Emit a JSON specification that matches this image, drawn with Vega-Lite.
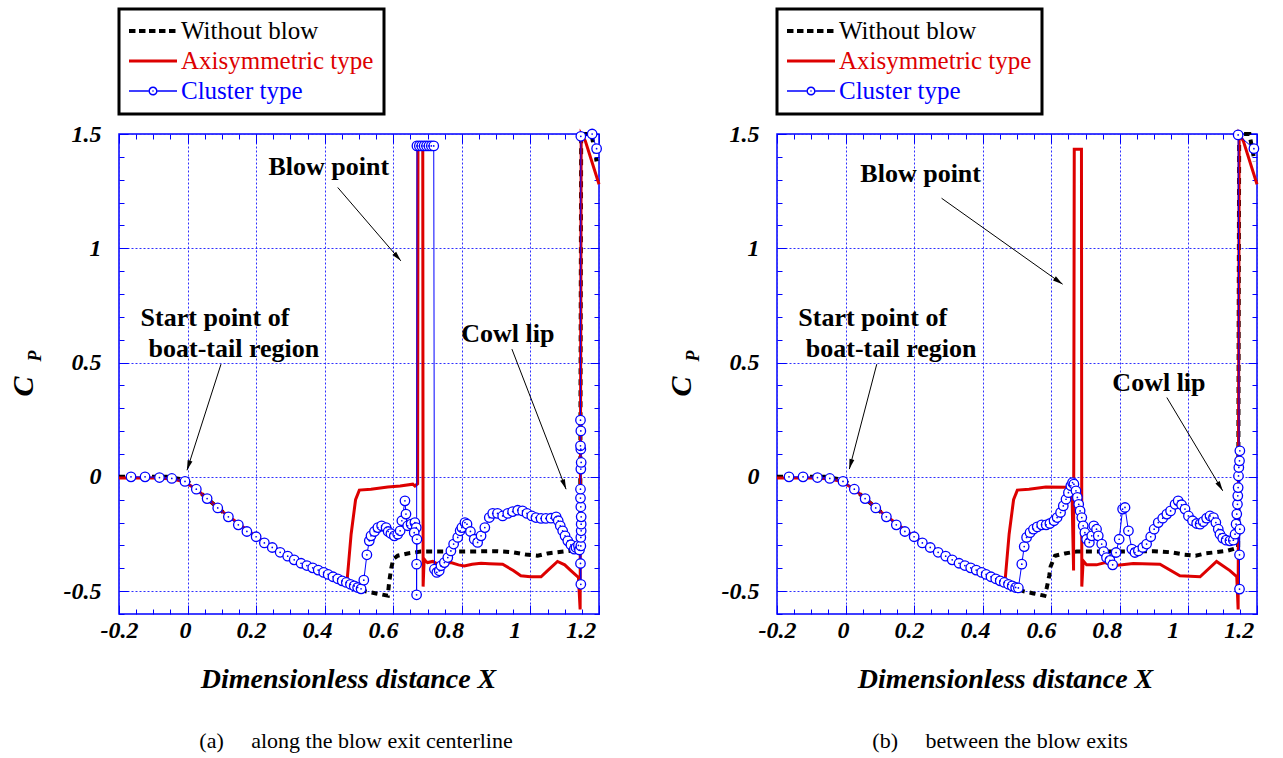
{
  "$schema": "https://vega.github.io/schema/vega-lite/v6.json",
  "padding": {"left": 7, "top": 6, "right": 5, "bottom": 0},
  "spacing": 59,
  "config": {
    "font": "Liberation Serif",
    "view": {"stroke": "#0000ff", "strokeWidth": 1.5},
    "axis": {
      "domain": false, "tickColor": "#0000ff", "tickWidth": 1,
      "gridColor": "#2f2fff", "gridDash": [2, 2], "gridWidth": 1,
      "labelFont": "Liberation Serif", "labelFontSize": 24, "labelFontStyle": "italic", "labelFontWeight": "bold", "labelColor": "black",
      "titleFont": "Liberation Serif", "titleFontStyle": "italic", "titleFontWeight": "bold", "titleColor": "black"
    }
  },
  "resolve": {"scale": {"color": "independent"}, "legend": {"color": "independent"}},
  "datasets": {
    "a_lines": [
      {"s":"Without blow","x":-0.2,"cp":0},{"s":"Without blow","x":-0.06,"cp":0},{"s":"Without blow","x":-0.02,"cp":-0.01},{"s":"Without blow","x":0,"cp":-0.02},{"s":"Without blow","x":0.03,"cp":-0.06},{"s":"Without blow","x":0.1,"cp":-0.15},{"s":"Without blow","x":0.2,"cp":-0.262},{"s":"Without blow","x":0.3,"cp":-0.355},{"s":"Without blow","x":0.4,"cp":-0.42},{"s":"Without blow","x":0.5,"cp":-0.485},{"s":"Without blow","x":0.517,"cp":-0.5},{"s":"Without blow","x":0.55,"cp":-0.51},{"s":"Without blow","x":0.584,"cp":-0.52},{"s":"Without blow","x":0.588,"cp":-0.46},{"s":"Without blow","x":0.594,"cp":-0.4},{"s":"Without blow","x":0.6,"cp":-0.36},{"s":"Without blow","x":0.613,"cp":-0.345},{"s":"Without blow","x":0.642,"cp":-0.335},{"s":"Without blow","x":0.68,"cp":-0.327},{"s":"Without blow","x":0.8,"cp":-0.327},{"s":"Without blow","x":0.9,"cp":-0.325},{"s":"Without blow","x":0.95,"cp":-0.33},{"s":"Without blow","x":0.987,"cp":-0.34},{"s":"Without blow","x":1.021,"cp":-0.345},{"s":"Without blow","x":1.05,"cp":-0.335},{"s":"Without blow","x":1.112,"cp":-0.324},{"s":"Without blow","x":1.145,"cp":-0.318},{"s":"Without blow","x":1.148,"cp":1.5},{"s":"Without blow","x":1.178,"cp":1.5},{"s":"Without blow","x":1.193,"cp":1.38},
      {"s":"Axisymmetric type","x":-0.2,"cp":-0.005},{"s":"Axisymmetric type","x":-0.1,"cp":-0.005},{"s":"Axisymmetric type","x":-0.05,"cp":-0.008},{"s":"Axisymmetric type","x":-0.01,"cp":-0.02},{"s":"Axisymmetric type","x":0.03,"cp":-0.06},{"s":"Axisymmetric type","x":0.1,"cp":-0.15},{"s":"Axisymmetric type","x":0.2,"cp":-0.262},{"s":"Axisymmetric type","x":0.3,"cp":-0.355},{"s":"Axisymmetric type","x":0.4,"cp":-0.42},{"s":"Axisymmetric type","x":0.465,"cp":-0.458},{"s":"Axisymmetric type","x":0.477,"cp":-0.251},{"s":"Axisymmetric type","x":0.49,"cp":-0.1},{"s":"Axisymmetric type","x":0.501,"cp":-0.058},{"s":"Axisymmetric type","x":0.535,"cp":-0.054},{"s":"Axisymmetric type","x":0.584,"cp":-0.044},{"s":"Axisymmetric type","x":0.62,"cp":-0.04},{"s":"Axisymmetric type","x":0.657,"cp":-0.032},
      {"s":"Axisymmetric type","x":0.663,"cp":-0.04},{"s":"Axisymmetric type","x":0.671,"cp":-0.03},{"s":"Axisymmetric type","x":0.672,"cp":1.44},{"s":"Axisymmetric type","x":0.686,"cp":1.44},{"s":"Axisymmetric type","x":0.687,"cp":-0.48},{"s":"Axisymmetric type","x":0.69,"cp":-0.36},{"s":"Axisymmetric type","x":0.695,"cp":-0.37},{"s":"Axisymmetric type","x":0.7,"cp":-0.375},{"s":"Axisymmetric type","x":0.715,"cp":-0.37},{"s":"Axisymmetric type","x":0.729,"cp":-0.382},{"s":"Axisymmetric type","x":0.75,"cp":-0.376},{"s":"Axisymmetric type","x":0.768,"cp":-0.375},{"s":"Axisymmetric type","x":0.79,"cp":-0.385},{"s":"Axisymmetric type","x":0.807,"cp":-0.39},{"s":"Axisymmetric type","x":0.83,"cp":-0.382},{"s":"Axisymmetric type","x":0.856,"cp":-0.378},{"s":"Axisymmetric type","x":0.88,"cp":-0.38},{"s":"Axisymmetric type","x":0.919,"cp":-0.382},{"s":"Axisymmetric type","x":0.95,"cp":-0.41},{"s":"Axisymmetric type","x":0.972,"cp":-0.433},{"s":"Axisymmetric type","x":1.0,"cp":-0.437},{"s":"Axisymmetric type","x":1.031,"cp":-0.437},{"s":"Axisymmetric type","x":1.05,"cp":-0.41},{"s":"Axisymmetric type","x":1.079,"cp":-0.37},{"s":"Axisymmetric type","x":1.1,"cp":-0.385},{"s":"Axisymmetric type","x":1.118,"cp":-0.41},{"s":"Axisymmetric type","x":1.14,"cp":-0.44},{"s":"Axisymmetric type","x":1.145,"cp":-0.58},{"s":"Axisymmetric type","x":1.148,"cp":1.5},{"s":"Axisymmetric type","x":1.16,"cp":1.47},{"s":"Axisymmetric type","x":1.2,"cp":1.28},
      {"s":"Cluster type","x":-0.165,"cp":0},{"s":"Cluster type","x":-0.124,"cp":0},{"s":"Cluster type","x":-0.082,"cp":-0.003},{"s":"Cluster type","x":-0.046,"cp":-0.007},{"s":"Cluster type","x":-0.0075,"cp":-0.02},{"s":"Cluster type","x":0.0255,"cp":-0.054},{"s":"Cluster type","x":0.057,"cp":-0.095},{"s":"Cluster type","x":0.088,"cp":-0.136},{"s":"Cluster type","x":0.119,"cp":-0.175},{"s":"Cluster type","x":0.148,"cp":-0.21},{"s":"Cluster type","x":0.173,"cp":-0.239},{"s":"Cluster type","x":0.2,"cp":-0.262},{"s":"Cluster type","x":0.224,"cp":-0.289},{"s":"Cluster type","x":0.247,"cp":-0.309},{"s":"Cluster type","x":0.27,"cp":-0.33},{"s":"Cluster type","x":0.292,"cp":-0.347},{"s":"Cluster type","x":0.311,"cp":-0.363},{"s":"Cluster type","x":0.331,"cp":-0.378},{"s":"Cluster type","x":0.348,"cp":-0.388},{"s":"Cluster type","x":0.365,"cp":-0.398},{"s":"Cluster type","x":0.381,"cp":-0.408},{"s":"Cluster type","x":0.397,"cp":-0.418},{"s":"Cluster type","x":0.41,"cp":-0.427},{"s":"Cluster type","x":0.424,"cp":-0.437},{"s":"Cluster type","x":0.438,"cp":-0.446},{"s":"Cluster type","x":0.451,"cp":-0.455},{"s":"Cluster type","x":0.463,"cp":-0.462},{"s":"Cluster type","x":0.475,"cp":-0.47},{"s":"Cluster type","x":0.486,"cp":-0.477},{"s":"Cluster type","x":0.496,"cp":-0.484},{"s":"Cluster type","x":0.506,"cp":-0.49},
      {"s":"Cluster type","x":0.514,"cp":-0.452},{"s":"Cluster type","x":0.523,"cp":-0.341},{"s":"Cluster type","x":0.53,"cp":-0.28},{"s":"Cluster type","x":0.535,"cp":-0.258},{"s":"Cluster type","x":0.545,"cp":-0.239},{"s":"Cluster type","x":0.555,"cp":-0.222},{"s":"Cluster type","x":0.566,"cp":-0.214},{"s":"Cluster type","x":0.579,"cp":-0.222},{"s":"Cluster type","x":0.585,"cp":-0.239},{"s":"Cluster type","x":0.593,"cp":-0.248},{"s":"Cluster type","x":0.603,"cp":-0.258},{"s":"Cluster type","x":0.613,"cp":-0.251},{"s":"Cluster type","x":0.62,"cp":-0.236},{"s":"Cluster type","x":0.625,"cp":-0.192},{"s":"Cluster type","x":0.634,"cp":-0.105},{"s":"Cluster type","x":0.637,"cp":-0.163},{"s":"Cluster type","x":0.642,"cp":-0.214},{"s":"Cluster type","x":0.652,"cp":-0.207},{"s":"Cluster type","x":0.663,"cp":-0.2},{"s":"Cluster type","x":0.667,"cp":-0.222},{"s":"Cluster type","x":0.661,"cp":-0.244},{"s":"Cluster type","x":0.669,"cp":-0.273},{"s":"Cluster type","x":0.668,"cp":-0.382},{"s":"Cluster type","x":0.668,"cp":-0.516},{"s":"Cluster type","x":0.669,"cp":1.448},{"s":"Cluster type","x":0.676,"cp":1.448},{"s":"Cluster type","x":0.683,"cp":1.448},{"s":"Cluster type","x":0.69,"cp":1.448},{"s":"Cluster type","x":0.697,"cp":1.448},{"s":"Cluster type","x":0.704,"cp":1.448},{"s":"Cluster type","x":0.711,"cp":1.448},{"s":"Cluster type","x":0.718,"cp":1.448},{"s":"Cluster type","x":0.72,"cp":-0.404},{"s":"Cluster type","x":0.727,"cp":-0.418},{"s":"Cluster type","x":0.734,"cp":-0.411},{"s":"Cluster type","x":0.739,"cp":-0.389},{"s":"Cluster type","x":0.749,"cp":-0.375},{"s":"Cluster type","x":0.759,"cp":-0.353},{"s":"Cluster type","x":0.768,"cp":-0.324},{"s":"Cluster type","x":0.776,"cp":-0.294},{"s":"Cluster type","x":0.788,"cp":-0.265},{"s":"Cluster type","x":0.795,"cp":-0.236},{"s":"Cluster type","x":0.8,"cp":-0.222},{"s":"Cluster type","x":0.809,"cp":-0.2},{"s":"Cluster type","x":0.815,"cp":-0.207},{"s":"Cluster type","x":0.825,"cp":-0.239},{"s":"Cluster type","x":0.836,"cp":-0.273},{"s":"Cluster type","x":0.846,"cp":-0.287},{"s":"Cluster type","x":0.856,"cp":-0.258},{"s":"Cluster type","x":0.867,"cp":-0.222},{"s":"Cluster type","x":0.88,"cp":-0.178},{"s":"Cluster type","x":0.89,"cp":-0.16},{"s":"Cluster type","x":0.904,"cp":-0.16},{"s":"Cluster type","x":0.919,"cp":-0.171},{"s":"Cluster type","x":0.934,"cp":-0.16},{"s":"Cluster type","x":0.948,"cp":-0.152},{"s":"Cluster type","x":0.963,"cp":-0.146},{"s":"Cluster type","x":0.977,"cp":-0.149},{"s":"Cluster type","x":0.99,"cp":-0.16},{"s":"Cluster type","x":1.004,"cp":-0.171},{"s":"Cluster type","x":1.016,"cp":-0.178},{"s":"Cluster type","x":1.031,"cp":-0.182},{"s":"Cluster type","x":1.045,"cp":-0.182},{"s":"Cluster type","x":1.06,"cp":-0.181},{"s":"Cluster type","x":1.075,"cp":-0.175},{"s":"Cluster type","x":1.081,"cp":-0.192},{"s":"Cluster type","x":1.087,"cp":-0.214},{"s":"Cluster type","x":1.094,"cp":-0.236},{"s":"Cluster type","x":1.101,"cp":-0.258},{"s":"Cluster type","x":1.109,"cp":-0.28},{"s":"Cluster type","x":1.118,"cp":-0.297},{"s":"Cluster type","x":1.128,"cp":-0.316},{"s":"Cluster type","x":1.133,"cp":-0.309},{"s":"Cluster type","x":1.14,"cp":-0.3},{"s":"Cluster type","x":1.143,"cp":-0.32},{"s":"Cluster type","x":1.146,"cp":-0.379},{"s":"Cluster type","x":1.147,"cp":-0.47},{"s":"Cluster type","x":1.147,"cp":-0.302},{"s":"Cluster type","x":1.147,"cp":-0.265},{"s":"Cluster type","x":1.148,"cp":-0.236},{"s":"Cluster type","x":1.148,"cp":-0.207},{"s":"Cluster type","x":1.148,"cp":-0.175},{"s":"Cluster type","x":1.147,"cp":-0.131},{"s":"Cluster type","x":1.146,"cp":-0.093},{"s":"Cluster type","x":1.146,"cp":-0.054},{"s":"Cluster type","x":1.147,"cp":0.034},{"s":"Cluster type","x":1.148,"cp":0.063},{"s":"Cluster type","x":1.147,"cp":0.121},{"s":"Cluster type","x":1.146,"cp":0.136},{"s":"Cluster type","x":1.147,"cp":0.201},{"s":"Cluster type","x":1.146,"cp":0.248},{"s":"Cluster type","x":1.147,"cp":1.49},{"s":"Cluster type","x":1.18,"cp":1.5},{"s":"Cluster type","x":1.193,"cp":1.436}
    ],
    "b_lines": [
      {"s":"Without blow","x":-0.2,"cp":0},{"s":"Without blow","x":-0.06,"cp":0},{"s":"Without blow","x":-0.02,"cp":-0.01},{"s":"Without blow","x":0,"cp":-0.02},{"s":"Without blow","x":0.03,"cp":-0.06},{"s":"Without blow","x":0.1,"cp":-0.15},{"s":"Without blow","x":0.2,"cp":-0.262},{"s":"Without blow","x":0.3,"cp":-0.355},{"s":"Without blow","x":0.4,"cp":-0.42},{"s":"Without blow","x":0.5,"cp":-0.485},{"s":"Without blow","x":0.518,"cp":-0.5},{"s":"Without blow","x":0.548,"cp":-0.51},{"s":"Without blow","x":0.58,"cp":-0.52},{"s":"Without blow","x":0.587,"cp":-0.484},{"s":"Without blow","x":0.594,"cp":-0.433},{"s":"Without blow","x":0.598,"cp":-0.392},{"s":"Without blow","x":0.611,"cp":-0.345},{"s":"Without blow","x":0.64,"cp":-0.335},{"s":"Without blow","x":0.674,"cp":-0.327},{"s":"Without blow","x":0.8,"cp":-0.327},{"s":"Without blow","x":0.9,"cp":-0.325},{"s":"Without blow","x":0.95,"cp":-0.33},{"s":"Without blow","x":0.987,"cp":-0.34},{"s":"Without blow","x":1.021,"cp":-0.345},{"s":"Without blow","x":1.05,"cp":-0.335},{"s":"Without blow","x":1.112,"cp":-0.324},{"s":"Without blow","x":1.145,"cp":-0.31},{"s":"Without blow","x":1.148,"cp":1.5},{"s":"Without blow","x":1.178,"cp":1.5},{"s":"Without blow","x":1.193,"cp":1.38},
      {"s":"Axisymmetric type","x":-0.2,"cp":-0.005},{"s":"Axisymmetric type","x":-0.1,"cp":-0.005},{"s":"Axisymmetric type","x":-0.05,"cp":-0.008},{"s":"Axisymmetric type","x":-0.01,"cp":-0.02},{"s":"Axisymmetric type","x":0.03,"cp":-0.06},{"s":"Axisymmetric type","x":0.1,"cp":-0.15},{"s":"Axisymmetric type","x":0.2,"cp":-0.262},{"s":"Axisymmetric type","x":0.3,"cp":-0.355},{"s":"Axisymmetric type","x":0.4,"cp":-0.42},{"s":"Axisymmetric type","x":0.465,"cp":-0.458},{"s":"Axisymmetric type","x":0.477,"cp":-0.251},{"s":"Axisymmetric type","x":0.49,"cp":-0.1},{"s":"Axisymmetric type","x":0.501,"cp":-0.058},{"s":"Axisymmetric type","x":0.535,"cp":-0.054},{"s":"Axisymmetric type","x":0.584,"cp":-0.044},{"s":"Axisymmetric type","x":0.645,"cp":-0.045},
      {"s":"Axisymmetric type","x":0.66,"cp":-0.04},{"s":"Axisymmetric type","x":0.665,"cp":-0.41},{"s":"Axisymmetric type","x":0.667,"cp":1.433},{"s":"Axisymmetric type","x":0.688,"cp":1.433},{"s":"Axisymmetric type","x":0.689,"cp":-0.48},{"s":"Axisymmetric type","x":0.693,"cp":-0.367},{"s":"Axisymmetric type","x":0.703,"cp":-0.385},{"s":"Axisymmetric type","x":0.732,"cp":-0.385},{"s":"Axisymmetric type","x":0.757,"cp":-0.375},{"s":"Axisymmetric type","x":0.781,"cp":-0.389},{"s":"Axisymmetric type","x":0.839,"cp":-0.379},{"s":"Axisymmetric type","x":0.917,"cp":-0.382},{"s":"Axisymmetric type","x":0.975,"cp":-0.433},{"s":"Axisymmetric type","x":1.034,"cp":-0.437},{"s":"Axisymmetric type","x":1.082,"cp":-0.37},{"s":"Axisymmetric type","x":1.121,"cp":-0.41},{"s":"Axisymmetric type","x":1.141,"cp":-0.437},{"s":"Axisymmetric type","x":1.145,"cp":-0.58},{"s":"Axisymmetric type","x":1.148,"cp":1.5},{"s":"Axisymmetric type","x":1.16,"cp":1.47},{"s":"Axisymmetric type","x":1.2,"cp":1.28},
      {"s":"Cluster type","x":-0.165,"cp":0},{"s":"Cluster type","x":-0.124,"cp":0},{"s":"Cluster type","x":-0.082,"cp":-0.003},{"s":"Cluster type","x":-0.046,"cp":-0.007},{"s":"Cluster type","x":-0.0075,"cp":-0.02},{"s":"Cluster type","x":0.0255,"cp":-0.054},{"s":"Cluster type","x":0.057,"cp":-0.095},{"s":"Cluster type","x":0.088,"cp":-0.136},{"s":"Cluster type","x":0.119,"cp":-0.175},{"s":"Cluster type","x":0.148,"cp":-0.21},{"s":"Cluster type","x":0.173,"cp":-0.239},{"s":"Cluster type","x":0.2,"cp":-0.262},{"s":"Cluster type","x":0.224,"cp":-0.289},{"s":"Cluster type","x":0.247,"cp":-0.309},{"s":"Cluster type","x":0.27,"cp":-0.33},{"s":"Cluster type","x":0.292,"cp":-0.347},{"s":"Cluster type","x":0.311,"cp":-0.363},{"s":"Cluster type","x":0.331,"cp":-0.378},{"s":"Cluster type","x":0.348,"cp":-0.388},{"s":"Cluster type","x":0.365,"cp":-0.398},{"s":"Cluster type","x":0.381,"cp":-0.408},{"s":"Cluster type","x":0.397,"cp":-0.418},{"s":"Cluster type","x":0.41,"cp":-0.427},{"s":"Cluster type","x":0.424,"cp":-0.437},{"s":"Cluster type","x":0.438,"cp":-0.446},{"s":"Cluster type","x":0.451,"cp":-0.455},{"s":"Cluster type","x":0.463,"cp":-0.462},{"s":"Cluster type","x":0.475,"cp":-0.47},{"s":"Cluster type","x":0.486,"cp":-0.477},{"s":"Cluster type","x":0.496,"cp":-0.484},{"s":"Cluster type","x":0.504,"cp":-0.486},
      {"s":"Cluster type","x":0.514,"cp":-0.382},{"s":"Cluster type","x":0.521,"cp":-0.305},{"s":"Cluster type","x":0.528,"cp":-0.265},{"s":"Cluster type","x":0.538,"cp":-0.244},{"s":"Cluster type","x":0.548,"cp":-0.229},{"s":"Cluster type","x":0.559,"cp":-0.219},{"s":"Cluster type","x":0.572,"cp":-0.21},{"s":"Cluster type","x":0.585,"cp":-0.21},{"s":"Cluster type","x":0.596,"cp":-0.204},{"s":"Cluster type","x":0.608,"cp":-0.192},{"s":"Cluster type","x":0.617,"cp":-0.178},{"s":"Cluster type","x":0.627,"cp":-0.156},{"s":"Cluster type","x":0.635,"cp":-0.127},{"s":"Cluster type","x":0.643,"cp":-0.098},{"s":"Cluster type","x":0.65,"cp":-0.069},{"s":"Cluster type","x":0.657,"cp":-0.039},{"s":"Cluster type","x":0.662,"cp":-0.025},{"s":"Cluster type","x":0.666,"cp":-0.032},{"s":"Cluster type","x":0.672,"cp":-0.061},{"s":"Cluster type","x":0.676,"cp":-0.09},{"s":"Cluster type","x":0.68,"cp":-0.12},{"s":"Cluster type","x":0.684,"cp":-0.149},{"s":"Cluster type","x":0.689,"cp":-0.178},{"s":"Cluster type","x":0.693,"cp":-0.214},{"s":"Cluster type","x":0.698,"cp":-0.244},{"s":"Cluster type","x":0.703,"cp":-0.273},{"s":"Cluster type","x":0.711,"cp":-0.287},{"s":"Cluster type","x":0.718,"cp":-0.258},{"s":"Cluster type","x":0.724,"cp":-0.214},{"s":"Cluster type","x":0.732,"cp":-0.229},{"s":"Cluster type","x":0.737,"cp":-0.258},{"s":"Cluster type","x":0.747,"cp":-0.294},{"s":"Cluster type","x":0.753,"cp":-0.327},{"s":"Cluster type","x":0.761,"cp":-0.353},{"s":"Cluster type","x":0.771,"cp":-0.365},{"s":"Cluster type","x":0.779,"cp":-0.385},{"s":"Cluster type","x":0.789,"cp":-0.331},{"s":"Cluster type","x":0.798,"cp":-0.273},{"s":"Cluster type","x":0.808,"cp":-0.141},{"s":"Cluster type","x":0.815,"cp":-0.134},{"s":"Cluster type","x":0.825,"cp":-0.236},{"s":"Cluster type","x":0.835,"cp":-0.316},{"s":"Cluster type","x":0.844,"cp":-0.331},{"s":"Cluster type","x":0.854,"cp":-0.324},{"s":"Cluster type","x":0.867,"cp":-0.309},{"s":"Cluster type","x":0.878,"cp":-0.294},{"s":"Cluster type","x":0.89,"cp":-0.262},{"s":"Cluster type","x":0.9,"cp":-0.229},{"s":"Cluster type","x":0.912,"cp":-0.2},{"s":"Cluster type","x":0.925,"cp":-0.181},{"s":"Cluster type","x":0.937,"cp":-0.163},{"s":"Cluster type","x":0.948,"cp":-0.149},{"s":"Cluster type","x":0.961,"cp":-0.12},{"s":"Cluster type","x":0.97,"cp":-0.105},{"s":"Cluster type","x":0.98,"cp":-0.122},{"s":"Cluster type","x":0.99,"cp":-0.141},{"s":"Cluster type","x":1.0,"cp":-0.171},{"s":"Cluster type","x":1.012,"cp":-0.192},{"s":"Cluster type","x":1.024,"cp":-0.204},{"s":"Cluster type","x":1.034,"cp":-0.207},{"s":"Cluster type","x":1.043,"cp":-0.196},{"s":"Cluster type","x":1.053,"cp":-0.181},{"s":"Cluster type","x":1.063,"cp":-0.171},{"s":"Cluster type","x":1.073,"cp":-0.178},{"s":"Cluster type","x":1.08,"cp":-0.2},{"s":"Cluster type","x":1.087,"cp":-0.229},{"s":"Cluster type","x":1.092,"cp":-0.251},{"s":"Cluster type","x":1.1,"cp":-0.268},{"s":"Cluster type","x":1.11,"cp":-0.277},{"s":"Cluster type","x":1.121,"cp":-0.28},{"s":"Cluster type","x":1.131,"cp":-0.277},{"s":"Cluster type","x":1.136,"cp":-0.251},{"s":"Cluster type","x":1.139,"cp":-0.207},{"s":"Cluster type","x":1.141,"cp":-0.163},{"s":"Cluster type","x":1.143,"cp":-0.12},{"s":"Cluster type","x":1.144,"cp":-0.083},{"s":"Cluster type","x":1.145,"cp":-0.047},{"s":"Cluster type","x":1.146,"cp":0.004},{"s":"Cluster type","x":1.147,"cp":0.041},{"s":"Cluster type","x":1.149,"cp":0.07},{"s":"Cluster type","x":1.15,"cp":0.114},{"s":"Cluster type","x":1.15,"cp":-0.229},{"s":"Cluster type","x":1.149,"cp":-0.341},{"s":"Cluster type","x":1.149,"cp":-0.491},{"s":"Cluster type","x":1.145,"cp":1.496},{"s":"Cluster type","x":1.191,"cp":1.436}
    ],
    "a_notes": [
      {"t":"Blow point","x":0.412,"cp":1.356},{"t":"Start point of","x":0.08,"cp":0.697},{"t":"boat-tail region","x":0.135,"cp":0.561},{"t":"Cowl lip","x":0.934,"cp":0.624}
    ],
    "b_notes": [
      {"t":"Blow point","x":0.219,"cp":1.324},{"t":"Start point of","x":0.079,"cp":0.697},{"t":"boat-tail region","x":0.133,"cp":0.559},{"t":"Cowl lip","x":0.914,"cp":0.4125}
    ],
    "a_arrows": [
      {"n":"blow","x":0.438,"cp":1.266,"x2":0.622,"cp2":0.945},{"n":"start","x":0.0975,"cp":0.493,"x2":-0.0017,"cp2":0.029},{"n":"cowl","x":0.946,"cp":0.559,"x2":1.104,"cp2":-0.054}
    ],
    "b_arrows": [
      {"n":"blow","x":0.28,"cp":1.219,"x2":0.633,"cp2":0.843},{"n":"start","x":0.091,"cp":0.493,"x2":0.011,"cp2":0.034},{"n":"cowl","x":0.937,"cp":0.347,"x2":1.1,"cp2":-0.061}
    ],
    "sub": [{"t":"P","x":-0.442,"cp":0.529}]
  },
  "hconcat": [
    {
      "width": 480, "height": 480,
      "title": {"text": "(a)\u00a0\u00a0\u00a0\u00a0 along the blow exit centerline", "orient": "bottom", "frame": "group", "anchor": "middle", "dx": -3, "offset": 38, "font": "Liberation Serif", "fontSize": 22, "fontWeight": "normal", "color": "black"},
      "resolve": {"axis": {"x": "independent", "y": "independent"}},
      "layer": [
        {"data": {"name": "a_lines"}, "transform": [{"filter": "datum.s === 'Without blow'"}],
         "mark": {"type": "line", "strokeDash": [6, 5], "strokeWidth": 4, "strokeCap": "butt"},
         "encoding": {
           "x": {"field": "x", "type": "quantitative", "scale": {"domain": [-0.2, 1.2], "nice": false, "zero": false},
                 "axis": {"orient": "bottom", "values": [-0.2, 0, 0.2, 0.4, 0.6, 0.8, 1, 1.2], "ticks": false, "grid": true, "labelPadding": 4, "labelFlush": false, "labelOverlap": false,
                          "labelExpr": "datum.value < 0 ? '-' + format(-datum.value, '~g') : format(datum.value, '~g')",
                          "labelOffset": {"expr": "-(datum.value + 0.2) * 13"},
                          "title": "Dimensionless distance X", "titleFontSize": 28, "titleX": 229, "titleY": 73, "titleBaseline": "alphabetic", "titleAlign": "center"}},
           "y": {"field": "cp", "type": "quantitative", "scale": {"domain": [-0.6, 1.5], "nice": false, "zero": false},
                 "axis": {"orient": "left", "values": [-0.5, 0, 0.5, 1, 1.5], "ticks": false, "grid": true, "labelPadding": 18, "labelOverlap": false, "labelFlush": false,
                          "labelExpr": "datum.value < 0 ? '-' + format(-datum.value, '~g') : format(datum.value, '~g')",
                          "title": "C", "titleFontSize": 30, "titleX": -96, "titleY": 252, "titleAngle": 270, "titleAlign": "center", "titleBaseline": "middle"}},
           "color": {"field": "s", "type": "nominal",
                     "scale": {"domain": ["Without blow", "Axisymmetric type", "Cluster type"], "range": ["#000000", "#dd0000", "#0000ff"]},
                     "legend": {"title": null, "orient": "none", "legendX": 0, "legendY": -125, "direction": "vertical", "padding": 10, "rowPadding": 5, "clipHeight": 24,
                                "symbolSize": 2304, "symbolStrokeWidth": 0, "symbolType": "stroke",
                                "labelFont": "Liberation Serif", "labelFontSize": 25, "labelFontStyle": "normal", "labelFontWeight": "normal", "labelOffset": 4, "labelLimit": 400,
                                "strokeColor": "black", "fillColor": "white",
                                "encode": {
                                  "legend": {"update": {"strokeWidth": {"value": 3}}},
                                  "labels": {"update": {"fill": [{"test": "datum.value === 'Without blow'", "value": "#000000"}, {"test": "datum.value === 'Axisymmetric type'", "value": "#dd0000"}, {"value": "#0000ff"}]}},
                                  "symbols": {"update": {
                                    "shape": [{"test": "datum.value === 'Without blow'", "value": "M-1,-0.085H-0.73V0.085H-1Z M-0.583,-0.085H-0.313V0.085H-0.583Z M-0.167,-0.085H0.103V0.085H-0.167Z M0.25,-0.085H0.52V0.085H0.25Z M0.667,-0.085H0.937V0.085H0.667Z"}, {"test": "datum.value === 'Cluster type'", "value": "M-1,-0.03H-0.19V0.03H-1Z M0.19,-0.03H1V0.03H0.19Z M0.19,0A0.19,0.19,0,1,1,-0.19,0A0.19,0.19,0,1,1,0.19,0Z M0.13,0A0.13,0.13,0,1,0,-0.13,0A0.13,0.13,0,1,0,0.13,0Z M0.035,0A0.035,0.035,0,1,1,-0.035,0A0.035,0.035,0,1,1,0.035,0Z"}, {"value": "M-1,-0.065H1V0.065H-1Z"}],
                                    "fill": [{"test": "datum.value === 'Without blow'", "value": "#000000"}, {"test": "datum.value === 'Cluster type'", "value": "#0000ff"}, {"value": "#dd0000"}],
                                    "fillOpacity": {"value": 1},
                                    "opacity": {"value": 1}
                                  }}
                                }}},
           "order": {"value": null}
         }},
        {"data": {"name": "a_lines"}, "transform": [{"filter": "datum.s === 'Axisymmetric type'"}],
         "mark": {"type": "line", "color": "#dd0000", "strokeWidth": 3},
         "encoding": {
           "x": {"field": "x", "type": "quantitative", "axis": {"orient": "bottom", "values": [-0.2, 0, 0.2, 0.4, 0.6, 0.8, 1, 1.2], "labels": false, "grid": false, "tickSize": -9, "title": null}},
           "y": {"field": "cp", "type": "quantitative", "axis": {"orient": "left", "values": [-0.5, 0, 0.5, 1, 1.5], "labels": false, "grid": false, "tickSize": -9, "title": null}},
           "order": {"value": null}
         }},
        {"data": {"name": "a_lines"}, "transform": [{"filter": "datum.s === 'Cluster type'"}],
         "mark": {"type": "line", "color": "#0000ff", "strokeWidth": 1},
         "encoding": {
           "x": {"field": "x", "type": "quantitative", "axis": {"orient": "bottom", "values": [-0.2, -0.15, -0.1, -0.05, 0, 0.05, 0.1, 0.15, 0.2, 0.25, 0.3, 0.35, 0.4, 0.45, 0.5, 0.55, 0.6, 0.65, 0.7, 0.75, 0.8, 0.85, 0.9, 0.95, 1, 1.05, 1.1, 1.15, 1.2], "labels": false, "grid": false, "tickSize": -5, "title": null}},
           "y": {"field": "cp", "type": "quantitative", "axis": {"orient": "left", "values": [-0.6, -0.5, -0.4, -0.3, -0.2, -0.1, 0, 0.1, 0.2, 0.3, 0.4, 0.5, 0.6, 0.7, 0.8, 0.9, 1, 1.1, 1.2, 1.3, 1.4, 1.5], "labels": false, "grid": false, "tickSize": -5, "title": null}},
           "order": {"value": null}
         }},
        {"data": {"name": "a_lines"}, "transform": [{"filter": "datum.s === 'Cluster type'"}],
         "mark": {"type": "point", "shape": "circle", "size": 90, "filled": true, "fill": "white", "stroke": "#0000ff", "strokeWidth": 1.3, "opacity": 1},
         "encoding": {
           "x": {"field": "x", "type": "quantitative", "axis": {"orient": "top", "values": [-0.2, 0, 0.2, 0.4, 0.6, 0.8, 1, 1.2], "labels": false, "grid": false, "tickSize": -9, "title": null}},
           "y": {"field": "cp", "type": "quantitative", "axis": {"orient": "right", "values": [-0.5, 0, 0.5, 1, 1.5], "labels": false, "grid": false, "tickSize": -9, "title": null}}
         }},
        {"data": {"name": "a_lines"}, "transform": [{"filter": "datum.s === 'Cluster type'"}],
         "mark": {"type": "point", "shape": "circle", "size": 3, "filled": true, "color": "#0000ff", "opacity": 1},
         "encoding": {
           "x": {"field": "x", "type": "quantitative", "axis": {"orient": "top", "values": [-0.2, -0.15, -0.1, -0.05, 0, 0.05, 0.1, 0.15, 0.2, 0.25, 0.3, 0.35, 0.4, 0.45, 0.5, 0.55, 0.6, 0.65, 0.7, 0.75, 0.8, 0.85, 0.9, 0.95, 1, 1.05, 1.1, 1.15, 1.2], "labels": false, "grid": false, "tickSize": -5, "title": null}},
           "y": {"field": "cp", "type": "quantitative", "axis": {"orient": "right", "values": [-0.6, -0.5, -0.4, -0.3, -0.2, -0.1, 0, 0.1, 0.2, 0.3, 0.4, 0.5, 0.6, 0.7, 0.8, 0.9, 1, 1.1, 1.2, 1.3, 1.4, 1.5], "labels": false, "grid": false, "tickSize": -5, "title": null}}
         }},
        {"data": {"name": "a_notes"},
         "mark": {"type": "text", "font": "Liberation Serif", "fontSize": 26, "fontWeight": "bold", "color": "black", "align": "center", "baseline": "middle"},
         "encoding": {"x": {"field": "x", "type": "quantitative", "axis": null}, "y": {"field": "cp", "type": "quantitative", "axis": null}, "text": {"field": "t"}}},
        {"data": {"name": "a_arrows"},
         "mark": {"type": "rule", "color": "black", "strokeWidth": 1},
         "encoding": {"x": {"field": "x", "type": "quantitative", "axis": null}, "y": {"field": "cp", "type": "quantitative", "axis": null}, "x2": {"field": "x2"}, "y2": {"field": "cp2"}}},
        {"data": {"name": "a_arrows"}, "transform": [{"filter": "datum.n === 'blow'"}],
         "mark": {"type": "point", "shape": "M0,0L0.5,2L-0.5,2Z", "size": 100, "filled": true, "color": "black", "opacity": 1, "angle": 139.2},
         "encoding": {"x": {"field": "x2", "type": "quantitative", "axis": null}, "y": {"field": "cp2", "type": "quantitative", "axis": null}}},
        {"data": {"name": "a_arrows"}, "transform": [{"filter": "datum.n === 'start'"}],
         "mark": {"type": "point", "shape": "M0,0L0.5,2L-0.5,2Z", "size": 100, "filled": true, "color": "black", "opacity": 1, "angle": 197.8},
         "encoding": {"x": {"field": "x2", "type": "quantitative", "axis": null}, "y": {"field": "cp2", "type": "quantitative", "axis": null}}},
        {"data": {"name": "a_arrows"}, "transform": [{"filter": "datum.n === 'cowl'"}],
         "mark": {"type": "point", "shape": "M0,0L0.5,2L-0.5,2Z", "size": 100, "filled": true, "color": "black", "opacity": 1, "angle": 158.9},
         "encoding": {"x": {"field": "x2", "type": "quantitative", "axis": null}, "y": {"field": "cp2", "type": "quantitative", "axis": null}}},
        {"data": {"name": "sub"},
         "mark": {"type": "text", "font": "Liberation Serif", "fontSize": 18, "fontWeight": "bold", "fontStyle": "italic", "color": "black", "align": "center", "baseline": "middle", "angle": 270},
         "encoding": {"x": {"field": "x", "type": "quantitative", "axis": null}, "y": {"field": "cp", "type": "quantitative", "axis": null}, "text": {"field": "t"}}}
      ]
    },
    {
      "width": 480, "height": 480,
      "title": {"text": "(b)\u00a0\u00a0\u00a0\u00a0 between the blow exits", "orient": "bottom", "frame": "group", "anchor": "middle", "dx": -17, "offset": 38, "font": "Liberation Serif", "fontSize": 22, "fontWeight": "normal", "color": "black"},
      "resolve": {"axis": {"x": "independent", "y": "independent"}},
      "layer": [
        {"data": {"name": "b_lines"}, "transform": [{"filter": "datum.s === 'Without blow'"}],
         "mark": {"type": "line", "strokeDash": [6, 5], "strokeWidth": 4, "strokeCap": "butt"},
         "encoding": {
           "x": {"field": "x", "type": "quantitative", "scale": {"domain": [-0.2, 1.2], "nice": false, "zero": false},
                 "axis": {"orient": "bottom", "values": [-0.2, 0, 0.2, 0.4, 0.6, 0.8, 1, 1.2], "ticks": false, "grid": true, "labelPadding": 4, "labelFlush": false, "labelOverlap": false,
                          "labelExpr": "datum.value < 0 ? '-' + format(-datum.value, '~g') : format(datum.value, '~g')",
                          "labelOffset": {"expr": "-(datum.value + 0.2) * 13"},
                          "title": "Dimensionless distance X", "titleFontSize": 28, "titleX": 228, "titleY": 73, "titleBaseline": "alphabetic", "titleAlign": "center"}},
           "y": {"field": "cp", "type": "quantitative", "scale": {"domain": [-0.6, 1.5], "nice": false, "zero": false},
                 "axis": {"orient": "left", "values": [-0.5, 0, 0.5, 1, 1.5], "ticks": false, "grid": true, "labelPadding": 18, "labelOverlap": false, "labelFlush": false,
                          "labelExpr": "datum.value < 0 ? '-' + format(-datum.value, '~g') : format(datum.value, '~g')",
                          "title": "C", "titleFontSize": 30, "titleX": -96, "titleY": 252, "titleAngle": 270, "titleAlign": "center", "titleBaseline": "middle"}},
           "color": {"field": "s", "type": "nominal",
                     "scale": {"domain": ["Without blow", "Axisymmetric type", "Cluster type"], "range": ["#000000", "#dd0000", "#0000ff"]},
                     "legend": {"title": null, "orient": "none", "legendX": 0, "legendY": -125, "direction": "vertical", "padding": 10, "rowPadding": 5, "clipHeight": 24,
                                "symbolSize": 2304, "symbolStrokeWidth": 0, "symbolType": "stroke",
                                "labelFont": "Liberation Serif", "labelFontSize": 25, "labelFontStyle": "normal", "labelFontWeight": "normal", "labelOffset": 4, "labelLimit": 400,
                                "strokeColor": "black", "fillColor": "white",
                                "encode": {
                                  "legend": {"update": {"strokeWidth": {"value": 3}}},
                                  "labels": {"update": {"fill": [{"test": "datum.value === 'Without blow'", "value": "#000000"}, {"test": "datum.value === 'Axisymmetric type'", "value": "#dd0000"}, {"value": "#0000ff"}]}},
                                  "symbols": {"update": {
                                    "shape": [{"test": "datum.value === 'Without blow'", "value": "M-1,-0.085H-0.73V0.085H-1Z M-0.583,-0.085H-0.313V0.085H-0.583Z M-0.167,-0.085H0.103V0.085H-0.167Z M0.25,-0.085H0.52V0.085H0.25Z M0.667,-0.085H0.937V0.085H0.667Z"}, {"test": "datum.value === 'Cluster type'", "value": "M-1,-0.03H-0.19V0.03H-1Z M0.19,-0.03H1V0.03H0.19Z M0.19,0A0.19,0.19,0,1,1,-0.19,0A0.19,0.19,0,1,1,0.19,0Z M0.13,0A0.13,0.13,0,1,0,-0.13,0A0.13,0.13,0,1,0,0.13,0Z M0.035,0A0.035,0.035,0,1,1,-0.035,0A0.035,0.035,0,1,1,0.035,0Z"}, {"value": "M-1,-0.065H1V0.065H-1Z"}],
                                    "fill": [{"test": "datum.value === 'Without blow'", "value": "#000000"}, {"test": "datum.value === 'Cluster type'", "value": "#0000ff"}, {"value": "#dd0000"}],
                                    "fillOpacity": {"value": 1},
                                    "opacity": {"value": 1}
                                  }}
                                }}},
           "order": {"value": null}
         }},
        {"data": {"name": "b_lines"}, "transform": [{"filter": "datum.s === 'Axisymmetric type'"}],
         "mark": {"type": "line", "color": "#dd0000", "strokeWidth": 3},
         "encoding": {
           "x": {"field": "x", "type": "quantitative", "axis": {"orient": "bottom", "values": [-0.2, 0, 0.2, 0.4, 0.6, 0.8, 1, 1.2], "labels": false, "grid": false, "tickSize": -9, "title": null}},
           "y": {"field": "cp", "type": "quantitative", "axis": {"orient": "left", "values": [-0.5, 0, 0.5, 1, 1.5], "labels": false, "grid": false, "tickSize": -9, "title": null}},
           "order": {"value": null}
         }},
        {"data": {"name": "b_lines"}, "transform": [{"filter": "datum.s === 'Cluster type'"}],
         "mark": {"type": "line", "color": "#0000ff", "strokeWidth": 1},
         "encoding": {
           "x": {"field": "x", "type": "quantitative", "axis": {"orient": "bottom", "values": [-0.2, -0.15, -0.1, -0.05, 0, 0.05, 0.1, 0.15, 0.2, 0.25, 0.3, 0.35, 0.4, 0.45, 0.5, 0.55, 0.6, 0.65, 0.7, 0.75, 0.8, 0.85, 0.9, 0.95, 1, 1.05, 1.1, 1.15, 1.2], "labels": false, "grid": false, "tickSize": -5, "title": null}},
           "y": {"field": "cp", "type": "quantitative", "axis": {"orient": "left", "values": [-0.6, -0.5, -0.4, -0.3, -0.2, -0.1, 0, 0.1, 0.2, 0.3, 0.4, 0.5, 0.6, 0.7, 0.8, 0.9, 1, 1.1, 1.2, 1.3, 1.4, 1.5], "labels": false, "grid": false, "tickSize": -5, "title": null}},
           "order": {"value": null}
         }},
        {"data": {"name": "b_lines"}, "transform": [{"filter": "datum.s === 'Cluster type'"}],
         "mark": {"type": "point", "shape": "circle", "size": 90, "filled": true, "fill": "white", "stroke": "#0000ff", "strokeWidth": 1.3, "opacity": 1},
         "encoding": {
           "x": {"field": "x", "type": "quantitative", "axis": {"orient": "top", "values": [-0.2, 0, 0.2, 0.4, 0.6, 0.8, 1, 1.2], "labels": false, "grid": false, "tickSize": -9, "title": null}},
           "y": {"field": "cp", "type": "quantitative", "axis": {"orient": "right", "values": [-0.5, 0, 0.5, 1, 1.5], "labels": false, "grid": false, "tickSize": -9, "title": null}}
         }},
        {"data": {"name": "b_lines"}, "transform": [{"filter": "datum.s === 'Cluster type'"}],
         "mark": {"type": "point", "shape": "circle", "size": 3, "filled": true, "color": "#0000ff", "opacity": 1},
         "encoding": {
           "x": {"field": "x", "type": "quantitative", "axis": {"orient": "top", "values": [-0.2, -0.15, -0.1, -0.05, 0, 0.05, 0.1, 0.15, 0.2, 0.25, 0.3, 0.35, 0.4, 0.45, 0.5, 0.55, 0.6, 0.65, 0.7, 0.75, 0.8, 0.85, 0.9, 0.95, 1, 1.05, 1.1, 1.15, 1.2], "labels": false, "grid": false, "tickSize": -5, "title": null}},
           "y": {"field": "cp", "type": "quantitative", "axis": {"orient": "right", "values": [-0.6, -0.5, -0.4, -0.3, -0.2, -0.1, 0, 0.1, 0.2, 0.3, 0.4, 0.5, 0.6, 0.7, 0.8, 0.9, 1, 1.1, 1.2, 1.3, 1.4, 1.5], "labels": false, "grid": false, "tickSize": -5, "title": null}}
         }},
        {"data": {"name": "b_notes"},
         "mark": {"type": "text", "font": "Liberation Serif", "fontSize": 26, "fontWeight": "bold", "color": "black", "align": "center", "baseline": "middle"},
         "encoding": {"x": {"field": "x", "type": "quantitative", "axis": null}, "y": {"field": "cp", "type": "quantitative", "axis": null}, "text": {"field": "t"}}},
        {"data": {"name": "b_arrows"},
         "mark": {"type": "rule", "color": "black", "strokeWidth": 1},
         "encoding": {"x": {"field": "x", "type": "quantitative", "axis": null}, "y": {"field": "cp", "type": "quantitative", "axis": null}, "x2": {"field": "x2"}, "y2": {"field": "cp2"}}},
        {"data": {"name": "b_arrows"}, "transform": [{"filter": "datum.n === 'blow'"}],
         "mark": {"type": "point", "shape": "M0,0L0.5,2L-0.5,2Z", "size": 100, "filled": true, "color": "black", "opacity": 1, "angle": 125.4},
         "encoding": {"x": {"field": "x2", "type": "quantitative", "axis": null}, "y": {"field": "cp2", "type": "quantitative", "axis": null}}},
        {"data": {"name": "b_arrows"}, "transform": [{"filter": "datum.n === 'start'"}],
         "mark": {"type": "point", "shape": "M0,0L0.5,2L-0.5,2Z", "size": 100, "filled": true, "color": "black", "opacity": 1, "angle": 194.6},
         "encoding": {"x": {"field": "x2", "type": "quantitative", "axis": null}, "y": {"field": "cp2", "type": "quantitative", "axis": null}}},
        {"data": {"name": "b_arrows"}, "transform": [{"filter": "datum.n === 'cowl'"}],
         "mark": {"type": "point", "shape": "M0,0L0.5,2L-0.5,2Z", "size": 100, "filled": true, "color": "black", "opacity": 1, "angle": 149},
         "encoding": {"x": {"field": "x2", "type": "quantitative", "axis": null}, "y": {"field": "cp2", "type": "quantitative", "axis": null}}},
        {"data": {"name": "sub"},
         "mark": {"type": "text", "font": "Liberation Serif", "fontSize": 18, "fontWeight": "bold", "fontStyle": "italic", "color": "black", "align": "center", "baseline": "middle", "angle": 270},
         "encoding": {"x": {"field": "x", "type": "quantitative", "axis": null}, "y": {"field": "cp", "type": "quantitative", "axis": null}, "text": {"field": "t"}}}
      ]
    }
  ]
}
